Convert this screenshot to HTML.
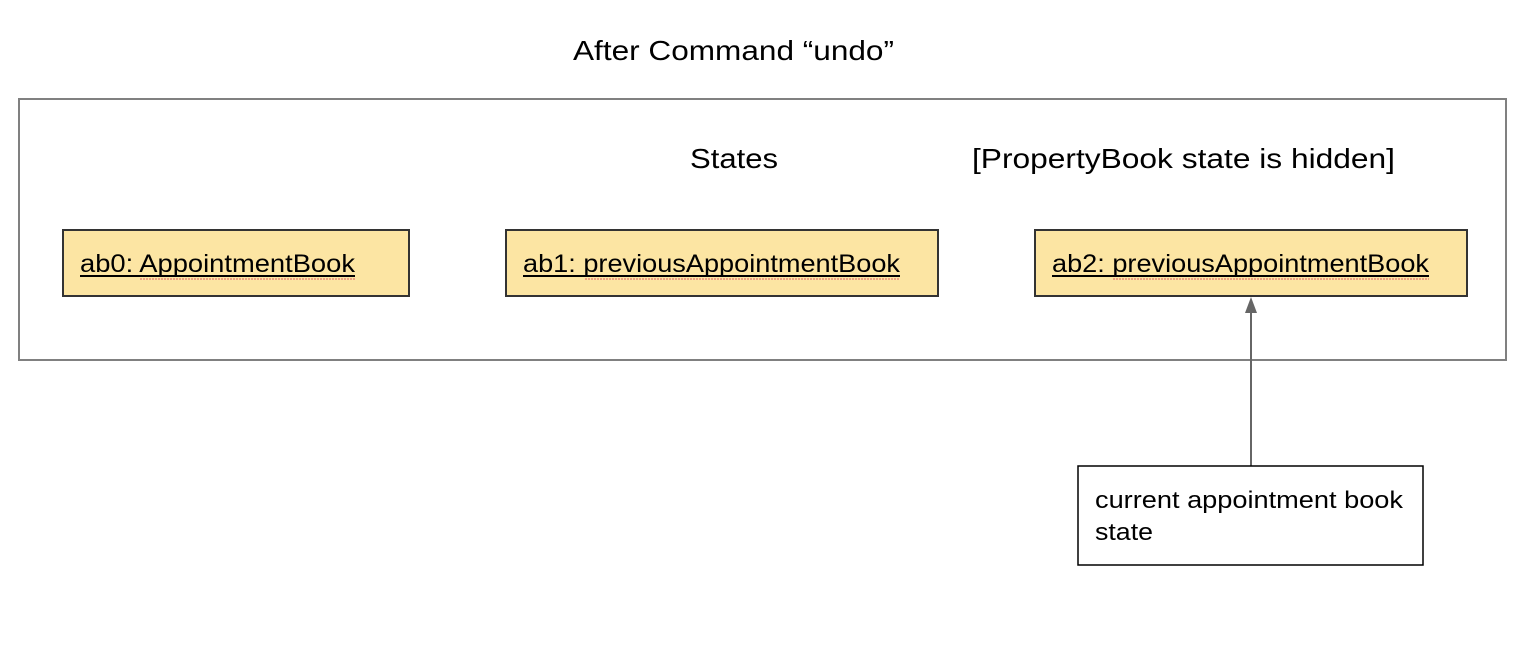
<!DOCTYPE html>
<html><head><meta charset="utf-8"><style>
html,body{margin:0;padding:0;background:#fff;}
svg{display:block;}
text{font-family:"Liberation Sans",Arial,sans-serif;fill:#000;}
</style></head><body>
<svg width="1528" height="666" viewBox="0 0 1528 666" xmlns="http://www.w3.org/2000/svg">
<rect x="0" y="0" width="1528" height="666" fill="#fff"/>
<text x="573" y="60" font-size="28" textLength="321" lengthAdjust="spacingAndGlyphs">After Command “undo”</text>
<rect x="19" y="99" width="1487" height="261" fill="none" stroke="#808080" stroke-width="2"/>
<text x="690" y="168" font-size="28" textLength="88" lengthAdjust="spacingAndGlyphs">States</text>
<text x="972" y="168" font-size="28" textLength="423" lengthAdjust="spacingAndGlyphs">[PropertyBook state is hidden]</text>

<rect x="63" y="230" width="346" height="66" fill="#fce5a3" stroke="#333" stroke-width="2"/>
<text x="80" y="272" font-size="25" textLength="275" lengthAdjust="spacingAndGlyphs">ab0: AppointmentBook</text>
<line x1="80" y1="276" x2="355" y2="276" stroke="#000" stroke-width="2"/>
<line x1="140" y1="279" x2="355" y2="279" stroke="#e06060" stroke-width="1" stroke-dasharray="2 1"/>

<rect x="506" y="230" width="432" height="66" fill="#fce5a3" stroke="#333" stroke-width="2"/>
<text x="523" y="272" font-size="25" textLength="377" lengthAdjust="spacingAndGlyphs">ab1: previousAppointmentBook</text>
<line x1="523" y1="276" x2="900" y2="276" stroke="#000" stroke-width="2"/>
<line x1="585" y1="279" x2="900" y2="279" stroke="#e06060" stroke-width="1" stroke-dasharray="2 1"/>

<rect x="1035" y="230" width="432" height="66" fill="#fce5a3" stroke="#333" stroke-width="2"/>
<text x="1052" y="272" font-size="25" textLength="377" lengthAdjust="spacingAndGlyphs">ab2: previousAppointmentBook</text>
<line x1="1052" y1="276" x2="1429" y2="276" stroke="#000" stroke-width="2"/>
<line x1="1113" y1="279" x2="1429" y2="279" stroke="#e06060" stroke-width="1" stroke-dasharray="2 1"/>

<line x1="1251" y1="466" x2="1251" y2="310" stroke="#666" stroke-width="2"/>
<polygon points="1251,297 1245,313 1257,313" fill="#666"/>

<rect x="1078" y="466" width="345" height="99" fill="#fff" stroke="#000" stroke-width="1.5"/>
<text x="1095" y="508" font-size="24" textLength="308" lengthAdjust="spacingAndGlyphs">current appointment book</text>
<text x="1095" y="540" font-size="24" textLength="58" lengthAdjust="spacingAndGlyphs">state</text>
</svg>
</body></html>
